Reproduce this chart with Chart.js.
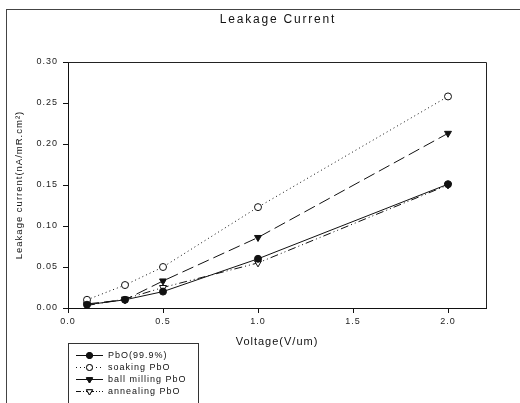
<!DOCTYPE html>
<html>
<head>
<meta charset="utf-8">
<script src="https://cdn.jsdelivr.net/npm/chart.js@4"></script>
<style>
  html, body { margin: 0; padding: 0; background: #fff; }
  #wrap { width: 520px; height: 403px; }
</style>
</head>
<body>
<div id="wrap"><canvas id="leakChart" width="520" height="403"></canvas></div>
<script>
const volts = [0.1, 0.3, 0.5, 1.0, 2.0];
const pbo = [0.004, 0.010, 0.020, 0.060, 0.151];
const soaking = [0.010, 0.028, 0.050, 0.123, 0.258];
const ballMilling = [0.005, 0.010, 0.033, 0.086, 0.213];
const annealing = [0.003, 0.011, 0.025, 0.055, 0.150];

const seriesNames = ["PbO(99.9%)", "soaking PbO", "ball milling PbO", "annealing PbO"];
const yTicks = [0, 0.05, 0.10, 0.15, 0.20, 0.25, 0.30];
const xTicks = [0, 0.5, 1.0, 1.5, 2.0];

const FONT = "'Liberation Sans', Arial, sans-serif";
const INK = "#111";

// style per series: dash, point style, fill, rotation
const looks = [
  { dash: [], style: "circle", fill: INK, rot: 0, r: 3.5 },
  { dash: [1, 3], style: "circle", fill: "#fff", rot: 0, r: 3.5 },
  { dash: [12, 5], style: "triangle", fill: INK, rot: 180, r: 4 },
  { dash: [8, 3, 1, 3, 1, 3], style: "triangle", fill: "#fff", rot: 180, r: 4 }
];
const legendDash = [[], [1, 3], [], [5, 2, 1, 2, 1, 2]];
const allValues = [pbo, soaking, ballMilling, annealing];

function makeSet(i) {
  const lk = looks[i];
  return {
    label: seriesNames[i],
    data: volts.map((v, j) => ({ x: v, y: allValues[i][j] })),
    borderColor: INK,
    borderWidth: 1,
    borderDash: lk.dash,
    pointStyle: lk.style,
    pointRotation: lk.rot,
    pointRadius: lk.r,
    pointBackgroundColor: lk.fill,
    pointBorderColor: INK,
    pointBorderWidth: 1,
    tension: 0,
    fill: false
  };
}

// frame, title, legend drawn around the plot
const decor = {
  id: "decor",
  beforeDraw(chart) {
    chart.ctx.letterSpacing = "1px";
  },
  afterDraw(chart) {
    const ctx = chart.ctx;
    const a = chart.chartArea;
    ctx.save();
    // outer frame
    ctx.strokeStyle = "#444";
    ctx.lineWidth = 1;
    ctx.strokeRect(6.5, 9.5, 600, 600);
    // top + right sides of the plot box
    ctx.strokeStyle = "#222";
    ctx.beginPath();
    ctx.moveTo(a.left, Math.round(a.top) + 0.5);
    ctx.lineTo(Math.round(a.right) + 0.5, Math.round(a.top) + 0.5);
    ctx.lineTo(Math.round(a.right) + 0.5, a.bottom);
    ctx.stroke();

    // title
    ctx.fillStyle = INK;
    ctx.font = "12px " + FONT;
    ctx.letterSpacing = "1.8px";
    ctx.textAlign = "center";
    ctx.textBaseline = "middle";
    ctx.fillText("Leakage Current", (a.left + a.right) / 2 + 1, 20);

    // legend
    ctx.letterSpacing = "1px";
    ctx.strokeStyle = "#333";
    ctx.strokeRect(68.5, 343.5, 130, 80);
    ctx.font = "9px " + FONT;
    ctx.textAlign = "left";
    seriesNames.forEach((name, i) => {
      const y = 355.5 + i * 12;
      const lk = looks[i];
      ctx.strokeStyle = INK;
      ctx.setLineDash(legendDash[i]);
      ctx.beginPath();
      ctx.moveTo(76, y);
      ctx.lineTo(103, y);
      ctx.stroke();
      ctx.setLineDash([]);
      Chart.helpers.drawPoint(ctx, {
        pointStyle: lk.style, rotation: lk.rot, radius: lk.r - 0.5, borderWidth: 1
      }, 89.5, y);
      ctx.fillStyle = lk.fill;
      ctx.strokeStyle = INK;
      ctx.fill();
      ctx.stroke();
      ctx.fillStyle = INK;
      ctx.fillText(name, 108, y + 0.5);
    });
    ctx.restore();
  }
};

new Chart(document.getElementById("leakChart"), {
  type: "line",
  data: { datasets: [0, 1, 2, 3].map(makeSet) },
  options: {
    responsive: false,
    animation: false,
    devicePixelRatio: 1,
    layout: { padding: { left: 0, right: 34, top: 62, bottom: 0 } },
    plugins: { legend: { display: false }, title: { display: false }, tooltip: { enabled: false } },
    scales: {
      x: {
        type: "linear",
        min: 0,
        max: 2.2,
        afterFit(s) { s.height = 95; },
        afterBuildTicks(s) { s.ticks = xTicks.map(v => ({ value: v })); },
        border: { display: true, color: INK, width: 1 },
        grid: { display: true, drawOnChartArea: false, drawTicks: true, tickLength: 5, color: INK },
        ticks: {
          font: { family: FONT, size: 9 },
          color: "#222",
          padding: 3,
          maxRotation: 0,
          callback: v => v.toFixed(1)
        },
        title: {
          display: true,
          text: "Voltage(V/um)",
          font: { family: FONT, size: 11 },
          color: INK,
          padding: { top: 0, bottom: 54 }
        }
      },
      y: {
        min: 0,
        max: 0.3,
        afterFit(s) { s.width = 68; },
        afterBuildTicks(s) { s.ticks = yTicks.map(v => ({ value: v })); },
        border: { display: true, color: INK, width: 1 },
        grid: { display: true, drawOnChartArea: false, drawTicks: true, tickLength: 5, color: INK },
        ticks: {
          font: { family: FONT, size: 9 },
          color: "#222",
          padding: 5,
          callback: v => v.toFixed(2)
        },
        title: {
          display: true,
          text: "Leakage current(nA/mR.cm\u00B2)",
          font: { family: FONT, size: 9.5 },
          color: INK,
          padding: { top: 14, bottom: 0 }
        }
      }
    }
  },
  plugins: [decor]
});
</script>
</body>
</html>
